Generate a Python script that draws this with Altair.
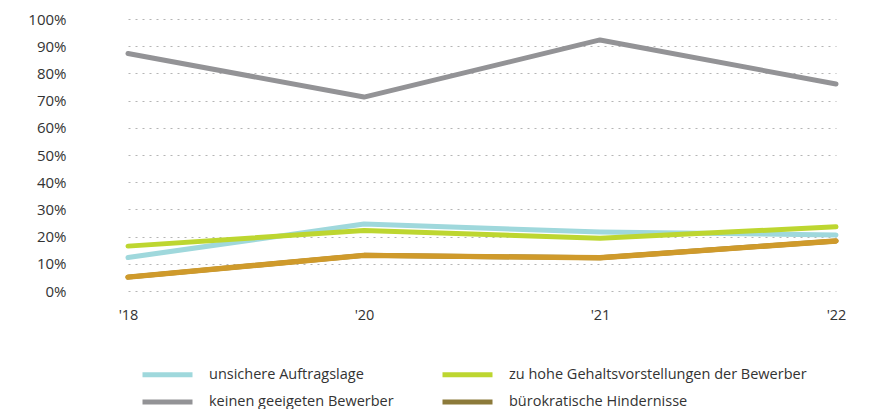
import altair as alt
import pandas as pd

years = ["'18", "'20", "'21", "'22"]
series_names = [
    "unsichere Auftragslage",
    "keinen geeigeten Bewerber",
    "zu hohe Gehaltsvorstellungen der Bewerber",
    "bürokratische Hindernisse",
]
unsichere = [12.3, 24.6, 21.7, 20.6]
keinen = [87.3, 71.3, 92.3, 76.1]
gehalt = [16.5, 22.2, 19.4, 23.6]
buero = [5.1, 13.1, 12.2, 18.4]
line_colors = ["#9fd8dc", "#939396", "#bdd630", "#cf9a2b"]
legend_colors = ["#9fd8dc", "#939396", "#bdd630", "#8c7a3a"]
y_ticks = list(range(0, 101, 10))

rows = []
for name, vals in zip(series_names, [unsichere, keinen, gehalt, buero]):
    for yr, v in zip(years, vals):
        rows.append({"year": yr, "series": name, "value": v})
df = pd.DataFrame(rows)

FONT = "Open Sans"
TXT = "#333333"
FS = 14.5

x_enc = alt.X(
    "year:N",
    sort=years,
    scale=alt.Scale(type="point", range=[16, 724], padding=0),
    axis=alt.Axis(
        title=None, labelAngle=0, domain=False, ticks=False, grid=False,
        labelPadding=17, labelFont=FONT, labelFontSize=FS, labelColor=TXT,
    ),
)
y_enc = alt.Y(
    "value:Q",
    scale=alt.Scale(domain=[0, 100], nice=False),
    axis=alt.Axis(
        title=None, values=y_ticks, labelExpr="datum.value + '%'",
        domain=False, ticks=False, labelPadding=46,
        labelFont=FONT, labelFontSize=15, labelColor=TXT,
        grid=True, gridColor="#b5b5b5", gridDash=[2, 5], gridWidth=1,
    ),
)

base = alt.Chart(df).mark_line(strokeWidth=5, strokeCap="round", strokeJoin="round").encode(
    x=x_enc,
    y=y_enc,
    color=alt.Color(
        "series:N",
        scale=alt.Scale(domain=series_names, range=legend_colors),
        legend=alt.Legend(
            title=None, orient="none", legendX=28, legendY=345, columns=2,
            symbolType="M-1,0H5.25", symbolSize=256, symbolStrokeWidth=5,
            symbolOpacity=1, labelFont=FONT, labelFontSize=FS, labelColor=TXT,
            labelOffset=48, labelLimit=500, columnPadding=38, rowPadding=6.5,
        ),
    ),
    order=alt.Order("year:N"),
)

top = alt.Chart(df).transform_filter(
    alt.datum.series == series_names[3]
).mark_line(strokeWidth=5.4, strokeCap="round", strokeJoin="round", color=line_colors[3]).encode(
    x=x_enc, y=y_enc,
)

chart = alt.layer(base, top).properties(
    width=754, height=272,
    autosize=alt.AutoSizeParams(type="none"),
    padding={"left": 104, "top": 11, "right": 0, "bottom": 120},
).configure_view(stroke=None)

chart.save("out.html", embed_options={"renderer": "svg", "actions": False})
